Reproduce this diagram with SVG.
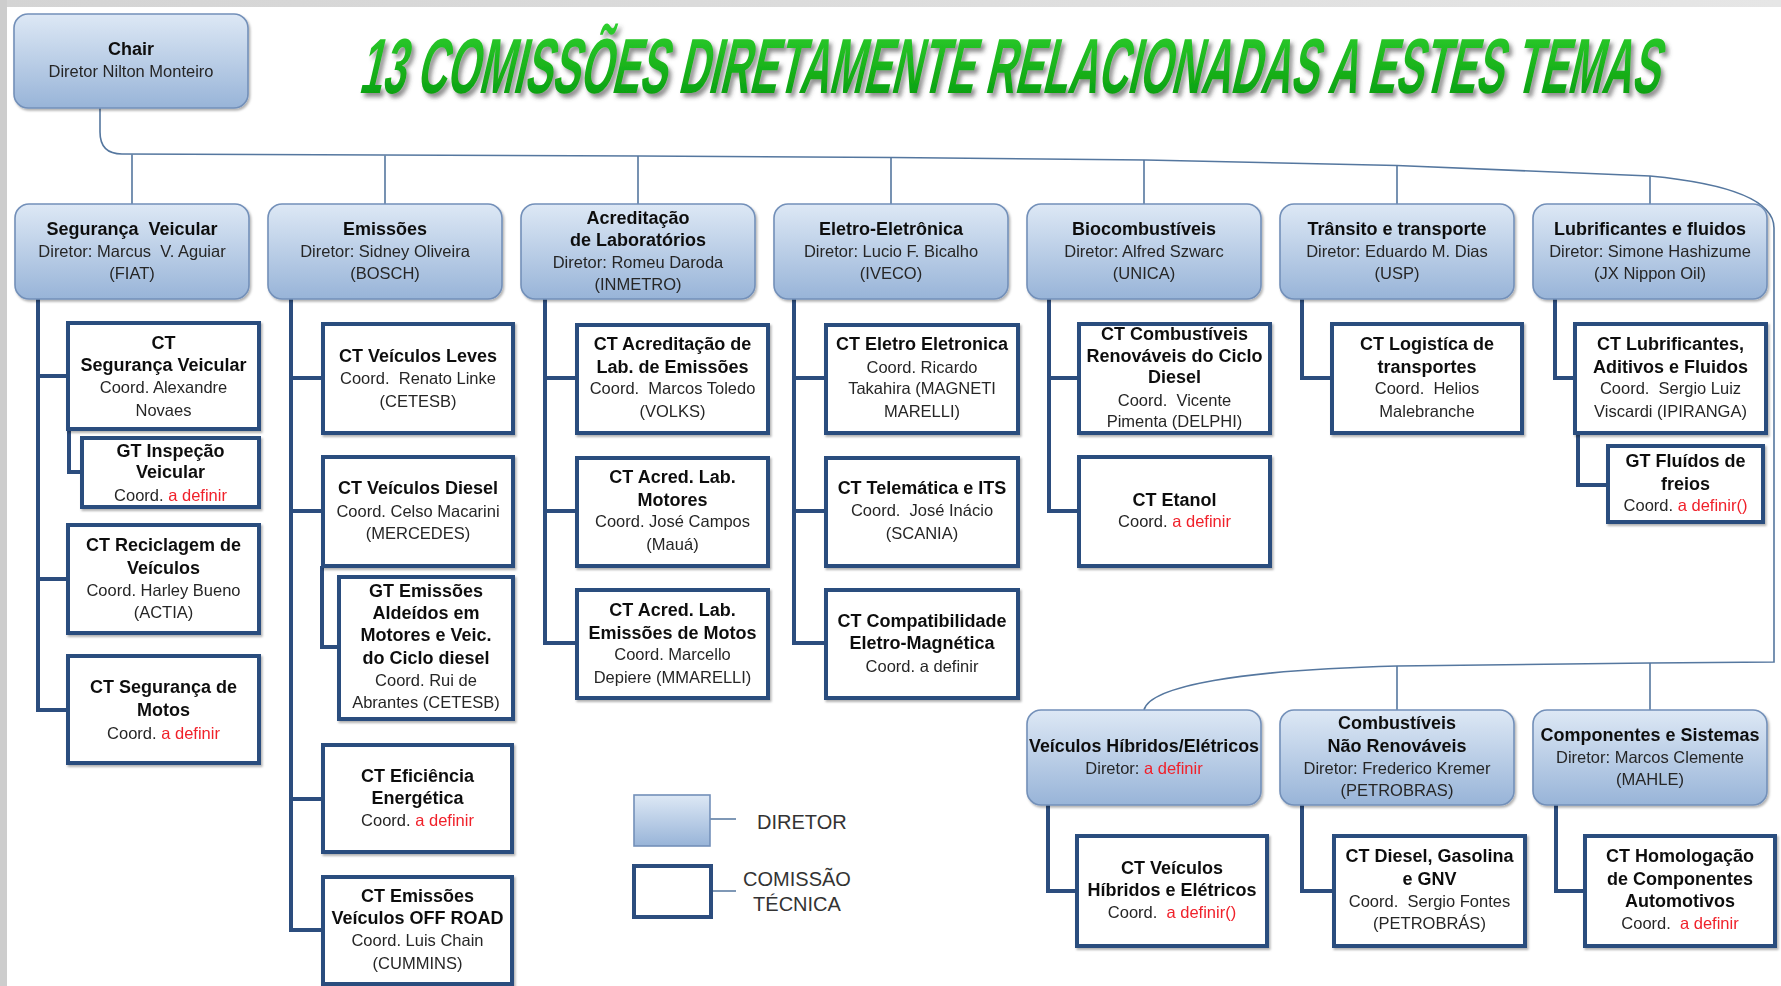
<svg xmlns="http://www.w3.org/2000/svg" width="1781" height="986" viewBox="0 0 1781 986">
<defs>
<linearGradient id="gDir" x1="0" y1="0" x2="0" y2="1"><stop offset="0" stop-color="#dde8f5"/><stop offset="1" stop-color="#98b4d8"/></linearGradient>
<linearGradient id="gTitle" x1="0" y1="0" x2="0" y2="1"><stop offset="0" stop-color="#2fd02f"/><stop offset="1" stop-color="#05980a"/></linearGradient>
<linearGradient id="gTop" x1="0" y1="0" x2="1" y2="0"><stop offset="0" stop-color="#d4d4d4"/><stop offset="1" stop-color="#e6e6e6"/></linearGradient>
<filter id="sh" x="-10%" y="-10%" width="120%" height="130%"><feDropShadow dx="1.5" dy="2" stdDeviation="1.3" flood-color="#000" flood-opacity="0.3"/></filter>
<filter id="tsh" x="-5%" y="-20%" width="110%" height="150%"><feDropShadow dx="3" dy="4" stdDeviation="2.2" flood-color="#444" flood-opacity="0.6"/></filter>
<style>
text{font-family:"Liberation Sans",Arial,sans-serif;text-anchor:middle;fill:#1c1c1c;white-space:pre}
.b{font-weight:bold;font-size:18px;fill:#111}
.r{font-size:16.5px;fill:#262626}
.red{fill:#f0202a}
.dir rect{fill:url(#gDir);stroke:#7390b9;stroke-width:1.6}
.ct rect{fill:#fff;stroke:#2c4d7e;stroke-width:4}
.bus{fill:none;stroke:#55779f;stroke-width:1.6}
.trunk{fill:none;stroke:#2c4d7e;stroke-width:4}
.leg{font-size:20px;fill:#333}
</style>
</defs>
<rect x="0" y="0" width="1781" height="986" fill="#fff"/>
<rect x="0" y="0" width="1781" height="7" fill="url(#gTop)"/>
<rect x="0" y="0" width="7" height="986" fill="#cdcdcd"/>

<g id="title" filter="url(#tsh)">
<text transform="translate(358,93) skewX(-13) scale(0.5,1)" x="0" y="0" textLength="2600" lengthAdjust="spacingAndGlyphs" style="font-weight:bold;font-size:78px;fill:url(#gTitle);text-anchor:start">13 COMISSÕES DIRETAMENTE RELACIONADAS A ESTES TEMAS</text>
</g>

<g id="connectors">
<path class="bus" d="M100,108 L100,132 Q100,154 122,154 L640,156 L893,157.5 L1146,160 L1397,165.5 L1650,176 Q1774,188 1774,228 L1774,662 L1650,663 L1397,666 C1240,670 1150,686 1144,710"/>
<path class="bus" d="M132,154.5 V204 M385,155.4 V204 M638,156 V204 M891,157.5 V204 M1144,160 V204 M1397,165.5 V204 M1650,176 V204 M1397,666 V710 M1650,663 V710"/>
<path class="trunk" d="M38,299 V710 H68 M38,376 H68 M38,579 H68 M69,429 V472 H82"/>
<path class="trunk" d="M291,299 V930 H323 M291,378 H323 M291,511 H323 M291,799 H323 M322,566 V647 H339"/>
<path class="trunk" d="M545,299 V643 H577 M545,378 H577 M545,511 H577"/>
<path class="trunk" d="M794,299 V643 H826 M794,378 H826 M794,511 H826"/>
<path class="trunk" d="M1049,299 V511 H1079 M1049,378 H1079"/>
<path class="trunk" d="M1302,299 V378 H1332"/>
<path class="trunk" d="M1555,299 V378 H1575 M1578,433 V485 H1608"/>
<path class="trunk" d="M1048,805 V891 H1077 M1302,805 V891 H1334 M1556,805 V891 H1585"/>
<path class="bus" d="M710,819 H736 M711,891 H736"/>
</g>

<g id="chair" class="dir" filter="url(#sh)"><rect x="14" y="14" width="234" height="94" rx="14"/><text class="b" x="131" y="55">Chair</text><text class="r" x="131" y="77">Diretor Nilton Monteiro</text></g>

<g id="dir-seguranca" class="dir" filter="url(#sh)"><rect x="15" y="204" width="234" height="95" rx="14"/><text class="b" x="132" y="235">Segurança&#160; Veicular</text><text class="r" x="132" y="257">Diretor: Marcus&#160; V. Aguiar</text><text class="r" x="132" y="279">(FIAT)</text></g>
<g id="dir-emissoes" class="dir" filter="url(#sh)"><rect x="268" y="204" width="234" height="95" rx="14"/><text class="b" x="385" y="235">Emissões</text><text class="r" x="385" y="257">Diretor: Sidney Oliveira</text><text class="r" x="385" y="279">(BOSCH)</text></g>
<g id="dir-acreditacao" class="dir" filter="url(#sh)"><rect x="521" y="204" width="234" height="95" rx="14"/><text class="b" x="638" y="224">Acreditação</text><text class="b" x="638" y="246">de Laboratórios</text><text class="r" x="638" y="268">Diretor: Romeu Daroda</text><text class="r" x="638" y="290">(INMETRO)</text></g>
<g id="dir-eletro" class="dir" filter="url(#sh)"><rect x="774" y="204" width="234" height="95" rx="14"/><text class="b" x="891" y="235">Eletro-Eletrônica</text><text class="r" x="891" y="257">Diretor: Lucio F. Bicalho</text><text class="r" x="891" y="279">(IVECO)</text></g>
<g id="dir-biocomb" class="dir" filter="url(#sh)"><rect x="1027" y="204" width="234" height="95" rx="14"/><text class="b" x="1144" y="235">Biocombustíveis</text><text class="r" x="1144" y="257">Diretor: Alfred Szwarc</text><text class="r" x="1144" y="279">(UNICA)</text></g>
<g id="dir-transito" class="dir" filter="url(#sh)"><rect x="1280" y="204" width="234" height="95" rx="14"/><text class="b" x="1397" y="235">Trânsito e transporte</text><text class="r" x="1397" y="257">Diretor: Eduardo M. Dias</text><text class="r" x="1397" y="279">(USP)</text></g>
<g id="dir-lubrificantes" class="dir" filter="url(#sh)"><rect x="1533" y="204" width="234" height="95" rx="14"/><text class="b" x="1650" y="235">Lubrificantes e fluidos</text><text class="r" x="1650" y="257">Diretor: Simone Hashizume</text><text class="r" x="1650" y="279">(JX Nippon Oil)</text></g>

<g id="dir-hibridos" class="dir" filter="url(#sh)"><rect x="1027" y="710" width="234" height="95" rx="14"/><text class="b" x="1144" y="752" textLength="230" lengthAdjust="spacingAndGlyphs">Veículos Híbridos/Elétricos</text><text class="r" x="1144" y="774"><tspan>Diretor: </tspan><tspan class="red">a definir</tspan></text></g>
<g id="dir-combustiveis" class="dir" filter="url(#sh)"><rect x="1280" y="710" width="234" height="95" rx="14"/><text class="b" x="1397" y="729">Combustíveis</text><text class="b" x="1397" y="752">Não Renováveis</text><text class="r" x="1397" y="774">Diretor: Frederico Kremer</text><text class="r" x="1397" y="796">(PETROBRAS)</text></g>
<g id="dir-componentes" class="dir" filter="url(#sh)"><rect x="1533" y="710" width="234" height="95" rx="14"/><text class="b" x="1650" y="741">Componentes e Sistemas</text><text class="r" x="1650" y="763">Diretor: Marcos Clemente</text><text class="r" x="1650" y="785">(MAHLE)</text></g>

<g id="ct-seg-veicular" class="ct" filter="url(#sh)"><rect x="68" y="323" width="191" height="106"/><text class="b" x="163.5" y="349">CT</text><text class="b" x="163.5" y="371">Segurança Veicular</text><text class="r" x="163.5" y="393">Coord. Alexandre</text><text class="r" x="163.5" y="416">Novaes</text></g>
<g id="gt-inspecao" class="ct" filter="url(#sh)"><rect x="82" y="438" width="177" height="69"/><text class="b" x="170.5" y="457">GT Inspeção</text><text class="b" x="170.5" y="478">Veicular</text><text class="r" x="170.5" y="501"><tspan>Coord. </tspan><tspan class="red">a definir</tspan></text></g>
<g id="ct-reciclagem" class="ct" filter="url(#sh)"><rect x="68" y="525" width="191" height="108"/><text class="b" x="163.5" y="551">CT Reciclagem de</text><text class="b" x="163.5" y="574">Veículos</text><text class="r" x="163.5" y="596">Coord. Harley Bueno</text><text class="r" x="163.5" y="618">(ACTIA)</text></g>
<g id="ct-seg-motos" class="ct" filter="url(#sh)"><rect x="68" y="656" width="191" height="107"/><text class="b" x="163.5" y="693">CT Segurança de</text><text class="b" x="163.5" y="716">Motos</text><text class="r" x="163.5" y="739"><tspan>Coord. </tspan><tspan class="red">a definir</tspan></text></g>

<g id="ct-veic-leves" class="ct" filter="url(#sh)"><rect x="323" y="324" width="190" height="109"/><text class="b" x="418" y="362">CT Veículos Leves</text><text class="r" x="418" y="384">Coord.&#160; Renato Linke</text><text class="r" x="418" y="407">(CETESB)</text></g>
<g id="ct-veic-diesel" class="ct" filter="url(#sh)"><rect x="323" y="457" width="190" height="109"/><text class="b" x="418" y="494">CT Veículos Diesel</text><text class="r" x="418" y="517">Coord. Celso Macarini</text><text class="r" x="418" y="539">(MERCEDES)</text></g>
<g id="gt-aldeidos" class="ct" filter="url(#sh)"><rect x="339" y="577" width="174" height="142"/><text class="b" x="426" y="597">GT Emissões</text><text class="b" x="426" y="619">Aldeídos em</text><text class="b" x="426" y="641">Motores e Veic.</text><text class="b" x="426" y="664">do Ciclo diesel</text><text class="r" x="426" y="686">Coord. Rui de</text><text class="r" x="426" y="708">Abrantes (CETESB)</text></g>
<g id="ct-eficiencia" class="ct" filter="url(#sh)"><rect x="323" y="745" width="189" height="107"/><text class="b" x="417.5" y="782">CT Eficiência</text><text class="b" x="417.5" y="804">Energética</text><text class="r" x="417.5" y="826"><tspan>Coord. </tspan><tspan class="red">a definir</tspan></text></g>
<g id="ct-offroad" class="ct" filter="url(#sh)"><rect x="323" y="877" width="189" height="107"/><text class="b" x="417.5" y="902">CT Emissões</text><text class="b" x="417.5" y="924">Veículos OFF ROAD</text><text class="r" x="417.5" y="946">Coord. Luis Chain</text><text class="r" x="417.5" y="969">(CUMMINS)</text></g>

<g id="ct-acred-emissoes" class="ct" filter="url(#sh)"><rect x="577" y="325" width="191" height="108"/><text class="b" x="672.5" y="350">CT Acreditação de</text><text class="b" x="672.5" y="373">Lab. de Emissões</text><text class="r" x="672.5" y="394">Coord.&#160; Marcos Toledo</text><text class="r" x="672.5" y="417">(VOLKS)</text></g>
<g id="ct-acred-motores" class="ct" filter="url(#sh)"><rect x="577" y="458" width="191" height="108"/><text class="b" x="672.5" y="483">CT Acred. Lab.</text><text class="b" x="672.5" y="506">Motores</text><text class="r" x="672.5" y="527">Coord. José Campos</text><text class="r" x="672.5" y="550">(Mauá)</text></g>
<g id="ct-acred-motos" class="ct" filter="url(#sh)"><rect x="577" y="590" width="191" height="108"/><text class="b" x="672.5" y="616">CT Acred. Lab.</text><text class="b" x="672.5" y="639">Emissões de Motos</text><text class="r" x="672.5" y="660">Coord. Marcello</text><text class="r" x="672.5" y="683">Depiere (MMARELLI)</text></g>

<g id="ct-eletro" class="ct" filter="url(#sh)"><rect x="826" y="325" width="192" height="108"/><text class="b" x="922" y="350">CT Eletro Eletronica</text><text class="r" x="922" y="373">Coord. Ricardo</text><text class="r" x="922" y="394">Takahira (MAGNETI</text><text class="r" x="922" y="417">MARELLI)</text></g>
<g id="ct-telematica" class="ct" filter="url(#sh)"><rect x="826" y="458" width="192" height="108"/><text class="b" x="922" y="494">CT Telemática e ITS</text><text class="r" x="922" y="516">Coord.&#160; José Inácio</text><text class="r" x="922" y="539">(SCANIA)</text></g>
<g id="ct-compat" class="ct" filter="url(#sh)"><rect x="826" y="590" width="192" height="108"/><text class="b" x="922" y="627">CT Compatibilidade</text><text class="b" x="922" y="649">Eletro-Magnética</text><text class="r" x="922" y="672">Coord. a definir</text></g>

<g id="ct-comb-renov" class="ct" filter="url(#sh)"><rect x="1079" y="324" width="191" height="109"/><text class="b" x="1174.5" y="340">CT Combustíveis</text><text class="b" x="1174.5" y="362">Renováveis do Ciclo</text><text class="b" x="1174.5" y="383">Diesel</text><text class="r" x="1174.5" y="406">Coord.&#160; Vicente</text><text class="r" x="1174.5" y="427">Pimenta (DELPHI)</text></g>
<g id="ct-etanol" class="ct" filter="url(#sh)"><rect x="1079" y="457" width="191" height="109"/><text class="b" x="1174.5" y="506">CT Etanol</text><text class="r" x="1174.5" y="527"><tspan>Coord. </tspan><tspan class="red">a definir</tspan></text></g>

<g id="ct-logistica" class="ct" filter="url(#sh)"><rect x="1332" y="324" width="190" height="109"/><text class="b" x="1427" y="350">CT Logistíca de</text><text class="b" x="1427" y="373">transportes</text><text class="r" x="1427" y="394">Coord.&#160; Helios</text><text class="r" x="1427" y="417">Malebranche</text></g>

<g id="ct-lubrificantes" class="ct" filter="url(#sh)"><rect x="1575" y="324" width="191" height="109"/><text class="b" x="1670.5" y="350">CT Lubrificantes,</text><text class="b" x="1670.5" y="373">Aditivos e Fluidos</text><text class="r" x="1670.5" y="394">Coord.&#160; Sergio Luiz</text><text class="r" x="1670.5" y="417">Viscardi (IPIRANGA)</text></g>
<g id="gt-fluidos" class="ct" filter="url(#sh)"><rect x="1608" y="446" width="155" height="76"/><text class="b" x="1685.5" y="467">GT Fluídos de</text><text class="b" x="1685.5" y="490">freios</text><text class="r" x="1685.5" y="511"><tspan>Coord. </tspan><tspan class="red">a definir()</tspan></text></g>

<g id="ct-hibridos" class="ct" filter="url(#sh)"><rect x="1077" y="836" width="190" height="110"/><text class="b" x="1172" y="874">CT Veículos</text><text class="b" x="1172" y="896">Híbridos e Elétricos</text><text class="r" x="1172" y="918"><tspan>Coord.&#160; </tspan><tspan class="red">a definir()</tspan></text></g>
<g id="ct-diesel-gasolina" class="ct" filter="url(#sh)"><rect x="1334" y="836" width="191" height="110"/><text class="b" x="1429.5" y="862">CT Diesel, Gasolina</text><text class="b" x="1429.5" y="885">e GNV</text><text class="r" x="1429.5" y="907">Coord.&#160; Sergio Fontes</text><text class="r" x="1429.5" y="929">(PETROBRÁS)</text></g>
<g id="ct-homologacao" class="ct" filter="url(#sh)"><rect x="1585" y="836" width="190" height="110"/><text class="b" x="1680" y="862">CT Homologação</text><text class="b" x="1680" y="885">de Componentes</text><text class="b" x="1680" y="907">Automotivos</text><text class="r" x="1680" y="929"><tspan>Coord.&#160; </tspan><tspan class="red">a definir</tspan></text></g>

<g id="legend">
<g id="legend-diretor" class="dir"><rect x="634" y="795" width="76" height="51"/></g>
<g id="legend-ct" class="ct"><rect x="634" y="866" width="77" height="51"/></g>
<text class="leg" x="757" y="829" style="text-anchor:start">DIRETOR</text>
<text class="leg" x="797" y="886">COMISSÃO</text>
<text class="leg" x="797" y="911">TÉCNICA</text>
</g>
</svg>
